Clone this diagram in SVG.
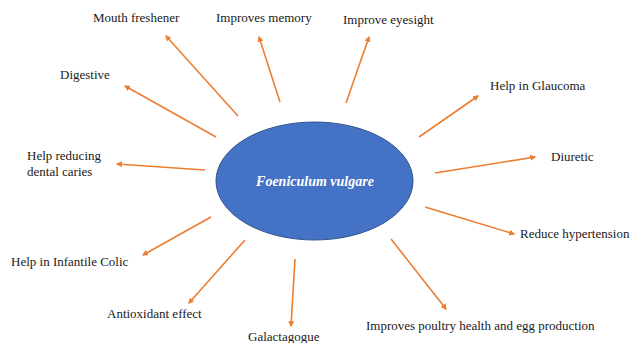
<svg xmlns="http://www.w3.org/2000/svg" width="631" height="343" viewBox="0 0 631 343">
<defs>
<style>
.lbl{font-family:"Liberation Serif","Times New Roman",serif;font-size:13px;fill:#1a1a1a}
.c line{stroke:#ED7D31;stroke-width:1.6;fill:none;marker-end:url(#ah)}
</style>
<marker id="ah" viewBox="0 0 10 10" refX="8" refY="5" markerWidth="6" markerHeight="6" orient="auto" markerUnits="userSpaceOnUse">
<path d="M0,0 L10,5 L0,10 z" fill="#ED7D31"/>
</marker>
</defs>
<rect width="631" height="343" fill="#ffffff"/>
<g id="center">
<ellipse cx="314.5" cy="181" rx="98.5" ry="59" fill="#4472C4" stroke="#2F528F" stroke-width="1"/>
<text x="315" y="186" text-anchor="middle" style="font-family:'Liberation Serif','Times New Roman',serif;font-size:14px;font-weight:bold;font-style:italic;fill:#ffffff">Foeniculum vulgare</text>
</g>
<g class="c" id="connectors">
<line x1="238" y1="116" x2="166" y2="36"/>
<line x1="280" y1="102" x2="259" y2="37"/>
<line x1="216" y1="137" x2="125" y2="86"/>
<line x1="205" y1="170" x2="117" y2="164"/>
<line x1="346" y1="103" x2="369" y2="37"/>
<line x1="419" y1="137" x2="478" y2="96"/>
<line x1="435" y1="173" x2="535" y2="157"/>
<line x1="211" y1="217" x2="143" y2="255"/>
<line x1="245" y1="240" x2="189" y2="303"/>
<line x1="295" y1="259" x2="291" y2="326"/>
<line x1="425" y1="207" x2="514" y2="234"/>
<line x1="391" y1="239" x2="446" y2="309"/>
</g>
<g id="n-mouth"><text class="lbl" x="93" y="22">Mouth freshener</text></g>
<g id="n-memory"><text class="lbl" x="216" y="22">Improves memory</text></g>
<g id="n-eyesight"><text class="lbl" x="343" y="24">Improve eyesight</text></g>
<g id="n-digestive"><text class="lbl" x="60" y="79">Digestive</text></g>
<g id="n-caries"><text class="lbl" x="27" y="160">Help reducing</text><text class="lbl" x="27" y="176">dental caries</text></g>
<g id="n-glaucoma"><text class="lbl" x="490" y="90">Help in Glaucoma</text></g>
<g id="n-diuretic"><text class="lbl" x="551" y="161">Diuretic</text></g>
<g id="n-hyper"><text class="lbl" x="520" y="238">Reduce hypertension</text></g>
<g id="n-poultry"><text class="lbl" x="366" y="330">Improves poultry health and egg production</text></g>
<g id="n-colic"><text class="lbl" x="11" y="266">Help in Infantile Colic</text></g>
<g id="n-antiox"><text class="lbl" x="107" y="318">Antioxidant effect</text></g>
<g id="n-galacta"><text class="lbl" x="248" y="341">Galactagogue</text></g>
</svg>
